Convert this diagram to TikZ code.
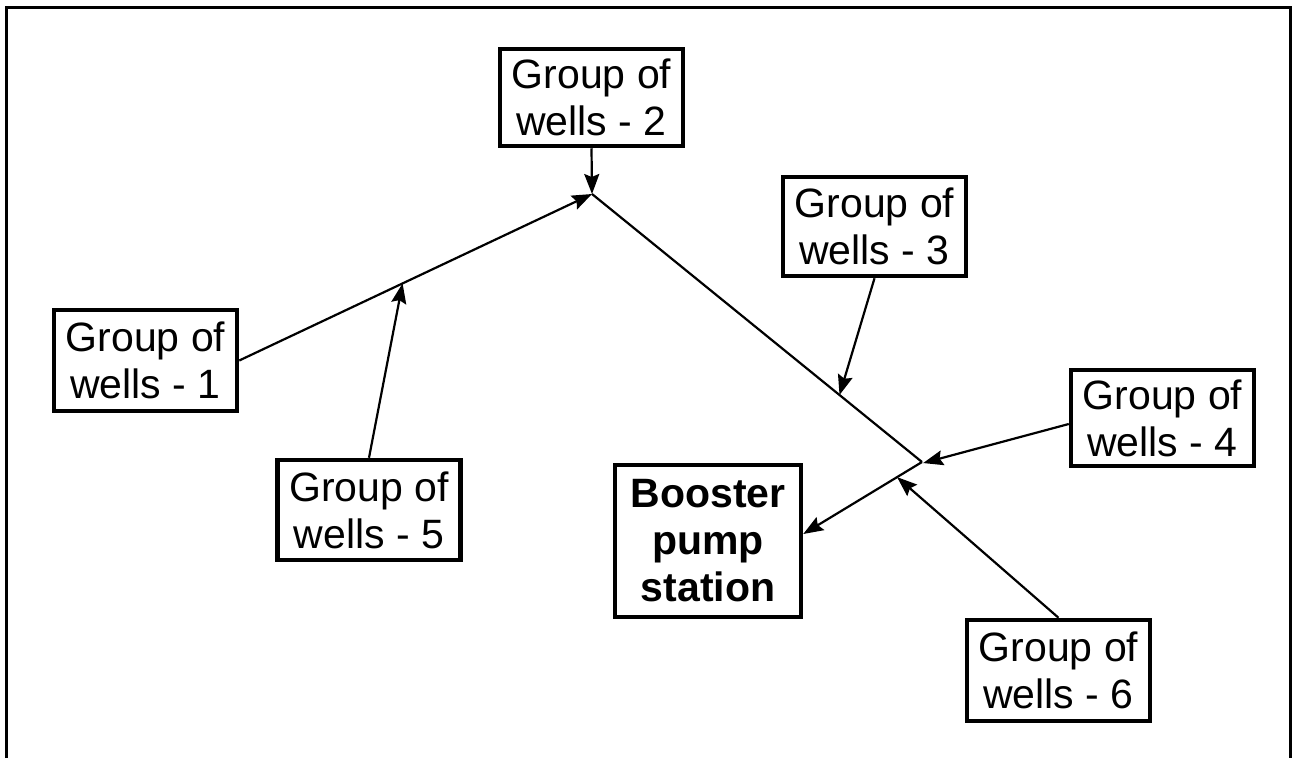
\documentclass[tikz,border=0pt]{standalone}
\usepackage{fontspec}
\setmainfont{Liberation Sans}
\usetikzlibrary{arrows.meta,calc}

\begin{document}
\begin{tikzpicture}[x=1pt,y=-1pt,
  wellbox/.style={draw, line width=4.5pt, align=center, inner sep=0pt,
    font=\fontsize{41}{47}\selectfont, minimum width=#1},
  wellbox/.default=183pt,
  pipe/.style={line width=2.2pt},
  flow/.style={line width=2.2pt, -{Stealth[length=20pt,width=15pt,inset=3pt]}}]

  \useasboundingbox (0,0) rectangle (1297,758);

  % outer frame (open at the bottom)
  \draw[line width=3pt] (6,758) -- (6,7) -- (1290,7) -- (1290,758);

  % well groups
  \node[wellbox, minimum height=101pt] (b1) at (145.5,360.5) {Group of\\wells - 1};
  \node[wellbox, minimum height=97pt]  (b2) at (591.5,97.5)  {Group of\\wells - 2};
  \node[wellbox, minimum height=99pt]  (b3) at (874.5,226.5) {Group of\\wells - 3};
  \node[wellbox, minimum height=96pt]  (b4) at (1162.5,418)  {Group of\\wells - 4};
  \node[wellbox, minimum height=100pt] (b5) at (369,510)     {Group of\\wells - 5};
  \node[wellbox, minimum height=101pt] (b6) at (1058.5,670.5) {Group of\\wells - 6};

  % booster station
  \node[wellbox=186pt, minimum height=152pt, font=\fontsize{41}{47}\selectfont\bfseries]
    (bps) at (708,541) {Booster\\pump\\station};

  % junctions on the collector main
  \coordinate (J1) at (592,194);
  \coordinate (J2) at (922,462);
  \coordinate (t5) at ($(b1.east)!0.463!(J1)$);
  \coordinate (t3) at ($(J1)!0.75!(J2)$);
  \coordinate (t6) at ($(J2)!0.21!([yshift=7pt]bps.east)$);

  % collector main
  \draw[flow] (b1.east) -- (J1);
  \draw[flow] (b2.south) -- (J1);
  \draw[pipe] (J1) -- (J2);
  \draw[flow] (J2) -- ([yshift=7pt]bps.east);

  % branches
  \draw[flow] (b5.north) -- (t5);
  \draw[flow] (b3.south) -- (t3);
  \draw[flow, shorten >=-4pt] ([yshift=-6pt]b4.west) -- ($(J2)+(5,0)$);
  \draw[flow] (b6.north) -- (t6);
\end{tikzpicture}
\end{document}
